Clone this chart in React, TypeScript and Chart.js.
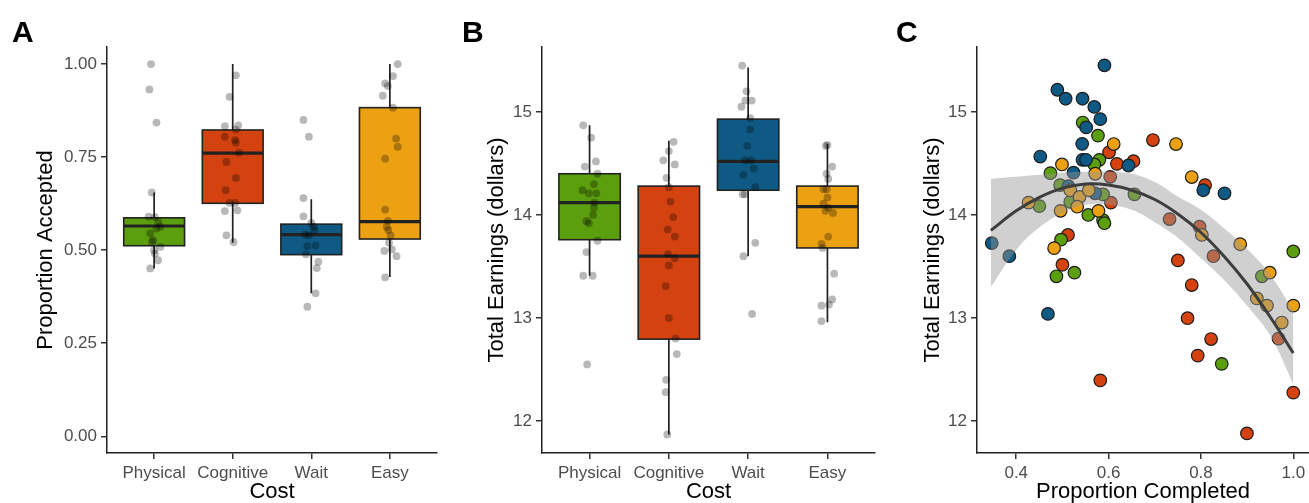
import React, { useEffect, useRef } from "react";
import { Chart, registerables } from "chart.js";
Chart.register(...registerables);

const FONT = "'Liberation Sans', Arial, Helvetica, sans-serif";
const CATEGORIES = ["Physical", "Cognitive", "Wait", "Easy"];
const COLORS = ["#5b9e0e", "#d3420f", "#0f5a84", "#eca112"];

// ---------- Panel A : Proportion Accepted ----------
const A_TICKS = [0, 0.25, 0.5, 0.75, 1.0];
const A_Q1 = [0.512, 0.626, 0.488, 0.53];
const A_MED = [0.565, 0.761, 0.542, 0.577];
const A_Q3 = [0.587, 0.823, 0.57, 0.883];
const A_LO = [0.451, 0.52, 0.384, 0.428];
const A_HI = [0.655, 1.0, 0.637, 1.0];

const A_PHYS_Y = [1.0, 0.932, 0.843, 0.655, 0.59, 0.589, 0.576, 0.563, 0.558, 0.545, 0.527, 0.522, 0.509, 0.5, 0.491, 0.473, 0.451];
const A_PHYS_J = [-0.04, -0.06, 0.03, -0.03, -0.07, 0.01, 0.05, 0.08, 0.03, -0.05, -0.01, -0.03, 0.08, 0.0, 0.01, 0.05, -0.05];
const A_COG_Y = [0.97, 0.912, 0.833, 0.835, 0.824, 0.805, 0.796, 0.789, 0.762, 0.737, 0.694, 0.661, 0.627, 0.627, 0.605, 0.607, 0.54, 0.522];
const A_COG_J = [0.04, -0.04, -0.1, 0.07, 0.04, -0.1, 0.03, 0.04, 0.08, -0.08, 0.04, -0.09, -0.04, 0.03, -0.1, 0.06, -0.08, 0.01];
const A_WAIT_Y = [0.85, 0.805, 0.64, 0.591, 0.573, 0.563, 0.554, 0.542, 0.54, 0.512, 0.511, 0.489, 0.469, 0.452, 0.384, 0.348];
const A_WAIT_J = [-0.1, -0.03, -0.1, -0.1, 0.0, 0.03, 0.04, -0.08, -0.03, 0.055, -0.05, -0.07, 0.09, 0.07, 0.055, -0.05];
const A_EASY_Y = [1.0, 0.968, 0.948, 0.941, 0.915, 0.883, 0.8, 0.778, 0.746, 0.609, 0.579, 0.563, 0.554, 0.54, 0.52, 0.498, 0.502, 0.484, 0.427];
const A_EASY_J = [0.1, 0.04, -0.06, -0.025, -0.09, 0.04, 0.08, 0.1, -0.06, -0.06, -0.025, -0.04, -0.02, 0.01, -0.01, -0.07, 0.025, 0.085, -0.06];

// ---------- Panel B : Total Earnings ----------
const B_TICKS = [12, 13, 14, 15];
const B_Q1 = [13.76, 12.795, 14.24, 13.68];
const B_MED = [14.12, 13.6, 14.52, 14.08];
const B_Q3 = [14.4, 14.28, 14.93, 14.28];
const B_LO = [13.41, 11.87, 13.6, 12.96];
const B_HI = [14.87, 14.72, 15.43, 14.69];

const B_PHYS_Y = [14.87, 14.75, 14.47, 14.52, 14.4, 14.3, 14.24, 14.21, 14.21, 14.12, 14.07, 14.0, 13.94, 13.92, 13.75, 13.64, 13.41, 13.41, 12.55];
const B_PHYS_J = [-0.08, 0.02, -0.06, 0.08, 0.1, 0.055, -0.09, -0.01, 0.085, 0.06, 0.055, 0.045, -0.04, -0.01, 0.1, -0.04, -0.08, 0.04, -0.03];
const B_COG_Y = [14.71, 14.62, 14.53, 14.49, 14.36, 14.27, 14.13, 13.98, 13.86, 13.79, 13.62, 13.58, 13.51, 13.31, 13.0, 12.8, 12.65, 12.4, 12.28, 11.87];
const B_COG_J = [0.06, 0.0, -0.07, 0.075, -0.03, 0.0, 0.02, 0.055, -0.015, 0.075, -0.01, 0.075, 0.0, -0.04, 0.0, 0.085, 0.1, -0.035, -0.04, -0.02];
const B_WAIT_Y = [15.45, 15.2, 15.11, 15.11, 15.05, 14.94, 14.83, 14.67, 14.53, 14.53, 14.45, 14.39, 14.27, 14.2, 14.2, 13.73, 13.6, 13.04];
const B_WAIT_J = [-0.075, -0.02, -0.035, 0.045, -0.085, 0.025, 0.025, -0.01, -0.04, 0.035, 0.07, -0.06, 0.09, -0.07, -0.04, 0.09, -0.06, 0.05];
const B_EASY_Y = [14.68, 14.67, 14.47, 14.4, 14.35, 14.25, 14.25, 14.17, 14.11, 14.07, 14.04, 14.02, 13.79, 13.72, 13.68, 13.43, 13.18, 13.13, 13.12, 12.97];
const B_EASY_J = [0.0, -0.02, 0.06, -0.01, 0.01, -0.05, -0.01, 0.0, -0.05, 0.01, -0.025, 0.07, 0.01, -0.075, -0.06, 0.085, 0.06, 0.02, -0.075, -0.075];

// ---------- Panel C : Earnings vs Proportion Completed ----------
const C_XTICKS = [0.4, 0.6, 0.8, 1.0];
const C_YTICKS = [12, 13, 14, 15];
const C_PHYS_X = [0.544, 0.577, 0.58, 0.569, 0.474, 0.495, 0.588, 0.45, 0.556, 0.588, 0.591, 0.656, 0.517, 0.497, 0.487, 0.526, 0.932, 1.0, 0.845];
const C_PHYS_Y = [14.897, 14.77, 14.535, 14.49, 14.406, 14.29, 14.2, 14.086, 14.0, 13.95, 13.92, 14.2, 14.127, 13.76, 13.405, 13.44, 13.405, 13.646, 12.555];
const C_COG_X = [0.696, 0.601, 0.618, 0.654, 0.605, 0.6035, 0.732, 0.797, 0.827, 0.968, 0.809, 0.512, 0.5, 0.75, 0.78, 0.771, 0.822, 0.793, 0.582, 0.8996, 1.0];
const C_COG_Y = [14.727, 14.608, 14.496, 14.522, 14.12, 14.37, 13.96, 13.886, 13.6, 12.8, 14.29, 13.806, 13.517, 13.559, 13.32, 12.998, 12.796, 12.635, 12.395, 11.88, 12.276];
const C_WAIT_X = [0.591, 0.489, 0.507, 0.5435, 0.569, 0.582, 0.5515, 0.5428, 0.452, 0.5435, 0.551, 0.643, 0.524, 0.513, 0.571, 0.805, 0.851, 0.347, 0.385, 0.4686];
const C_WAIT_Y = [15.452, 15.215, 15.128, 15.128, 15.048, 14.93, 14.85, 14.69, 14.567, 14.535, 14.535, 14.48, 14.41, 14.28, 14.21, 14.24, 14.21, 13.727, 13.6, 13.04];
const C_EASY_X = [0.611, 0.746, 0.499, 0.78, 0.4267, 0.517, 0.537, 0.557, 0.571, 0.496, 0.532, 0.578, 0.802, 0.885, 0.482, 0.949, 0.921, 0.943, 0.975, 1.0];
const C_EASY_Y = [14.688, 14.688, 14.49, 14.368, 14.12, 14.24, 14.175, 14.24, 14.4, 14.04, 14.08, 14.04, 13.806, 13.716, 13.678, 13.44, 13.19, 13.12, 12.956, 13.12];

const FIT_X = [0.345, 0.4, 0.45, 0.5, 0.55, 0.6, 0.65, 0.7, 0.75, 0.8, 0.85, 0.9, 0.95, 1.0];
const FIT_Y = [13.85, 14.04, 14.17, 14.26, 14.3, 14.29, 14.24, 14.15, 14.01, 13.83, 13.6, 13.33, 13.01, 12.66];
const FIT_HI = [14.35, 14.37, 14.39, 14.41, 14.42, 14.42, 14.4, 14.32, 14.18, 14.05, 13.87, 13.67, 13.42, 13.07];
const FIT_LO = [13.3, 13.66, 13.88, 14.02, 14.1, 14.1, 14.05, 13.93, 13.78, 13.58, 13.37, 13.12, 12.83, 12.36];

const TICK_COLOR = "#4d4d4d";
const AXIS_COLOR = "#222";

function tickList(values: number[]) {
  return (axis: any) => {
    axis.ticks = values.map((v) => ({ value: v }));
  };
}

function axisBase(extra: any) {
  return {
    type: "linear",
    grid: { display: true, drawOnChartArea: false, drawTicks: true, tickLength: 6, color: "#333", lineWidth: 1.5 },
    border: { display: true, color: AXIS_COLOR, width: 1.5 },
    ...extra,
  };
}

const fitX = (s: any) => {
  s.height = 50;
  s.paddingLeft = 0;
  s.paddingRight = 0;
};

function makeBoxPlugin(q1: number[], med: number[], q3: number[], lo: number[], hi: number[]) {
  return {
    id: "boxes",
    beforeDatasetsDraw(chart: any) {
      const { ctx, scales } = chart;
      const xs = scales.x;
      const ys = scales.y;
      const half = 0.387;
      ctx.save();
      for (let i = 0; i < q1.length; i++) {
        const cx = xs.getPixelForValue(i);
        const l = xs.getPixelForValue(i - half);
        const r = xs.getPixelForValue(i + half);
        const yq1 = ys.getPixelForValue(q1[i]);
        const yq3 = ys.getPixelForValue(q3[i]);
        const ym = ys.getPixelForValue(med[i]);
        const ylo = ys.getPixelForValue(lo[i]);
        const yhi = ys.getPixelForValue(hi[i]);
        ctx.strokeStyle = "#222";
        ctx.lineWidth = 1.7;
        ctx.beginPath();
        ctx.moveTo(cx, yhi);
        ctx.lineTo(cx, yq3);
        ctx.moveTo(cx, yq1);
        ctx.lineTo(cx, ylo);
        ctx.stroke();
        ctx.fillStyle = COLORS[i];
        ctx.fillRect(l, yq3, r - l, yq1 - yq3);
        ctx.lineWidth = 1.6;
        ctx.strokeRect(l, yq3, r - l, yq1 - yq3);
        ctx.lineWidth = 3.2;
        ctx.beginPath();
        ctx.moveTo(l, ym);
        ctx.lineTo(r, ym);
        ctx.stroke();
      }
      ctx.restore();
    },
  };
}

function jitterSet(ys: number[], js: number[], cat: number) {
  return {
    type: "scatter",
    data: ys.map((y, i) => ({ x: cat + js[i], y })),
    pointRadius: 3.9,
    pointBackgroundColor: "rgba(0,0,0,0.28)",
    pointBorderWidth: 0,
    pointBorderColor: "rgba(0,0,0,0)",
  };
}

function boxConfig(p: any) {
  return {
    type: "scatter",
    data: {
      datasets: [
        jitterSet(p.groups[0][0], p.groups[0][1], 0),
        jitterSet(p.groups[1][0], p.groups[1][1], 1),
        jitterSet(p.groups[2][0], p.groups[2][1], 2),
        jitterSet(p.groups[3][0], p.groups[3][1], 3),
      ],
    },
    options: {
      animation: false,
      responsive: false,
      devicePixelRatio: 1,
      events: [],
      layout: { autoPadding: false, padding: { top: 47, left: 0, right: p.right, bottom: 0 } },
      plugins: { legend: { display: false }, tooltip: { enabled: false } },
      scales: {
        x: axisBase({
          min: -0.6,
          max: 3.6,
          afterBuildTicks: tickList([0, 1, 2, 3]),
          afterFit: fitX,
          ticks: {
            padding: 4,
            color: TICK_COLOR,
            font: { family: FONT, size: 17 },
            autoSkip: false,
            maxRotation: 0,
            callback: (v: any) => CATEGORIES[Math.round(Number(v))],
          },
          title: { display: true, text: "Cost", color: "#000", font: { family: FONT, size: 22, lineHeight: 1 }, padding: { top: 0, bottom: 0 } },
        }),
        y: axisBase({
          min: p.ymin,
          max: p.ymax,
          afterBuildTicks: tickList(p.ticks),
          afterFit: (s: any) => { s.width = p.yw; },
          ticks: {
            padding: 4,
            color: TICK_COLOR,
            font: { family: FONT, size: 17 },
            callback: p.fmt,
          },
          title: { display: true, text: p.ytitle, color: "#000", font: { family: FONT, size: 22, lineHeight: 1 }, padding: { top: p.ytp, bottom: 0 } },
        }),
      },
    },
    plugins: [makeBoxPlugin(p.q1, p.med, p.q3, p.lo, p.hi)],
  };
}

function pointSet(xs: number[], ys: number[], color: string) {
  return {
    type: "scatter",
    data: xs.map((x, i) => ({ x, y: ys[i] })),
    pointRadius: 6.3,
    pointBackgroundColor: color,
    pointBorderColor: "#1c1c1c",
    pointBorderWidth: 1.2,
    order: 10,
  };
}

function scatterConfig() {
  return {
    type: "scatter",
    data: {
      datasets: [
        pointSet(C_EASY_X, C_EASY_Y, COLORS[3]),
        pointSet(C_WAIT_X, C_WAIT_Y, COLORS[2]),
        pointSet(C_PHYS_X, C_PHYS_Y, COLORS[0]),
        pointSet(C_COG_X, C_COG_Y, COLORS[1]),
        {
          type: "line",
          data: FIT_X.map((x, i) => ({ x, y: FIT_LO[i] })),
          borderWidth: 0,
          pointRadius: 0,
          tension: 0.4,
          fill: false,
          order: 5,
        },
        {
          type: "line",
          data: FIT_X.map((x, i) => ({ x, y: FIT_HI[i] })),
          borderWidth: 0,
          borderColor: "rgba(0,0,0,0)",
          pointRadius: 0,
          tension: 0.4,
          fill: { target: 4 },
          backgroundColor: "rgba(150,150,150,0.45)",
          order: 4,
        },
        {
          type: "line",
          data: FIT_X.map((x, i) => ({ x, y: FIT_Y[i] })),
          borderWidth: 3,
          borderColor: "#3d3d3d",
          pointRadius: 0,
          tension: 0.4,
          fill: false,
          order: 0,
        },
      ],
    },
    options: {
      animation: false,
      responsive: false,
      devicePixelRatio: 1,
      events: [],
      layout: { autoPadding: false, padding: { top: 47, left: 0, right: 0, bottom: 0 } },
      plugins: { legend: { display: false }, tooltip: { enabled: false } },
      scales: {
        x: axisBase({
          min: 0.315,
          max: 1.034,
          afterBuildTicks: tickList(C_XTICKS),
          afterFit: fitX,
          ticks: {
            padding: 4,
            color: TICK_COLOR,
            font: { family: FONT, size: 17 },
            autoSkip: false,
            maxRotation: 0,
            callback: (v: any) => Number(v).toFixed(1),
          },
          title: { display: true, text: "Proportion Completed", color: "#000", font: { family: FONT, size: 22, lineHeight: 1 }, padding: { top: 0, bottom: 0 } },
        }),
        y: axisBase({
          min: 11.69,
          max: 15.63,
          afterBuildTicks: tickList(C_YTICKS),
          afterFit: (s: any) => { s.width = 97; },
          ticks: {
            padding: 4,
            color: TICK_COLOR,
            font: { family: FONT, size: 17 },
            callback: (v: any) => String(v),
          },
          title: { display: true, text: "Total Earnings (dollars)", color: "#000", font: { family: FONT, size: 22, lineHeight: 1 }, padding: { top: 42, bottom: 0 } },
        }),
      },
    },
  };
}

function ChartCanvas({ config, left, width }: { config: () => any; left: number; width: number }) {
  const ref = useRef<HTMLCanvasElement | null>(null);
  useEffect(() => {
    if (!ref.current) return;
    const chart = new Chart(ref.current, config() as any);
    return () => chart.destroy();
  }, []);
  return (
    <canvas
      ref={ref}
      width={width}
      height={503}
      style={{ position: "absolute", left, top: 0, width, height: 503 }}
    />
  );
}

const letterStyle = (left: number): React.CSSProperties => ({
  position: "absolute",
  left,
  top: 17,
  fontFamily: FONT,
  fontWeight: 700,
  fontSize: 30,
  lineHeight: "30px",
  color: "#000",
});

export default function App() {
  const cfgA = () =>
    boxConfig({
      groups: [[A_PHYS_Y, A_PHYS_J], [A_COG_Y, A_COG_J], [A_WAIT_Y, A_WAIT_J], [A_EASY_Y, A_EASY_J]],
      q1: A_Q1, med: A_MED, q3: A_Q3, lo: A_LO, hi: A_HI,
      ymin: -0.045, ymax: 1.046, ticks: A_TICKS,
      fmt: (v: any) => Number(v).toFixed(2),
      ytitle: "Proportion Accepted", yw: 107, ytp: 35, right: 3,
    });
  const cfgB = () =>
    boxConfig({
      groups: [[B_PHYS_Y, B_PHYS_J], [B_COG_Y, B_COG_J], [B_WAIT_Y, B_WAIT_J], [B_EASY_Y, B_EASY_J]],
      q1: B_Q1, med: B_MED, q3: B_Q3, lo: B_LO, hi: B_HI,
      ymin: 11.69, ymax: 15.63, ticks: B_TICKS,
      fmt: (v: any) => String(v),
      ytitle: "Total Earnings (dollars)", yw: 102, ytp: 46, right: 5,
    });
  return (
    <div style={{ position: "fixed", left: 0, top: 0, width: 1309, height: 503, overflow: "hidden", background: "#fff" }}>
      <ChartCanvas config={cfgA} left={0} width={440} />
      <ChartCanvas config={cfgB} left={440} width={440} />
      <ChartCanvas config={scatterConfig} left={880} width={429} />
      <div style={letterStyle(12)}>A</div>
      <div style={letterStyle(462)}>B</div>
      <div style={letterStyle(896)}>C</div>
    </div>
  );
}
